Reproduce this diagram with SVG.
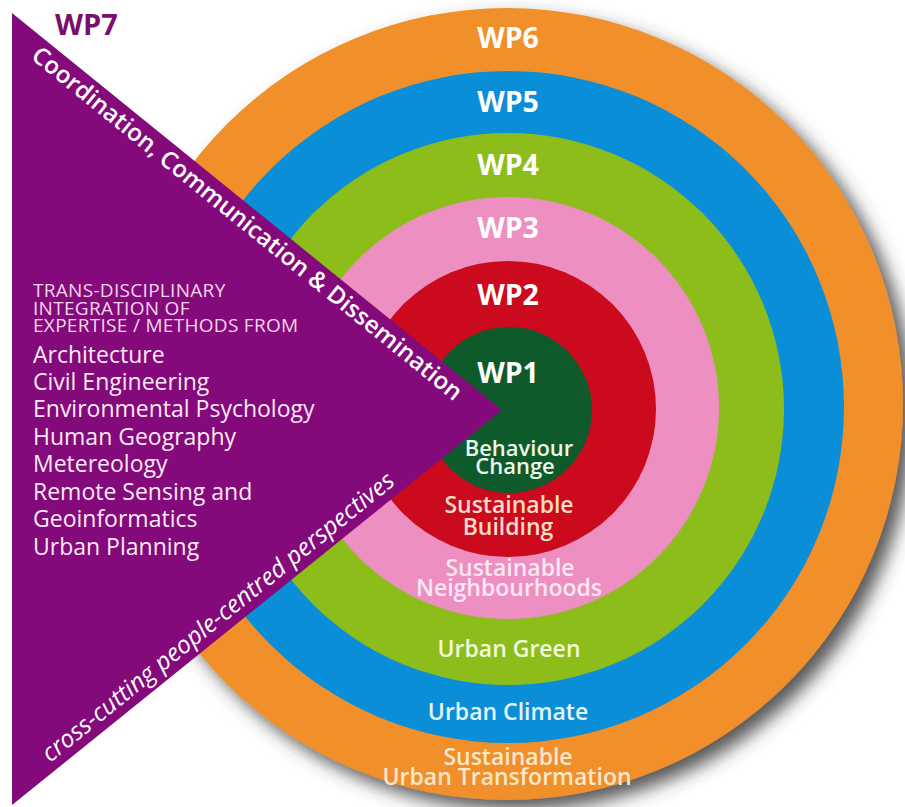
<svg xmlns="http://www.w3.org/2000/svg" width="905" height="807" viewBox="0 0 905 807">
<defs>
<filter id="shadow" x="-10%" y="-10%" width="125%" height="125%">
<feDropShadow dx="10" dy="10" stdDeviation="9" flood-color="#3a3a3a" flood-opacity="0.85"/>
</filter>
<style>
text{font-family:"Open Sans","Noto Sans","DejaVu Sans",sans-serif}
.wp{font-size:28.5px;font-weight:700;fill:#ffffff;text-anchor:middle}
.ring{font-size:23px;font-weight:600;text-anchor:middle}
.caps{font-size:19px;fill:#f4d6ec;letter-spacing:0.3px}
.list{font-size:23px;fill:#fbeaf6}
</style>
</defs>
<rect width="905" height="807" fill="#ffffff"/>
<g id="wp6">
<circle cx="507" cy="404" r="396" fill="#f18f2b" filter="url(#shadow)"/>
<text class="wp" x="508" y="48">WP6</text>
<text class="ring" x="508" y="765" fill="#fbe7cc">Sustainable</text>
<text class="ring" x="507" y="785" fill="#fbe7cc">Urban Transformation</text>
</g>
<g id="wp5">
<circle cx="508" cy="407" r="336" fill="#0b8ed8"/>
<text class="wp" x="508" y="112">WP5</text>
<text class="ring" x="508" y="720" fill="#e6f4fb">Urban Climate</text>
</g>
<g id="wp4">
<circle cx="508" cy="409" r="276" fill="#8dbd1b"/>
<text class="wp" x="508" y="175">WP4</text>
<text class="ring" x="509" y="657" fill="#f2f8dc">Urban Green</text>
</g>
<g id="wp3">
<circle cx="508" cy="408" r="211" fill="#ee8fc1"/>
<text class="wp" x="508" y="238" fill="#fbeaf3">WP3</text>
<text class="ring" x="510" y="576" fill="#fbe8f2">Sustainable</text>
<text class="ring" x="509" y="596" fill="#fbe8f2">Neighbourhoods</text>
</g>
<g id="wp2">
<circle cx="508" cy="409" r="148" fill="#cb0b1d"/>
<text class="wp" x="508" y="305">WP2</text>
<text class="ring" x="509" y="513" fill="#fadcc8">Sustainable</text>
<text class="ring" x="508" y="535" fill="#fadcc8">Building</text>
</g>
<g id="wp1">
<circle cx="509" cy="410" r="83" fill="#0f5a2b"/>
<text class="wp" x="508" y="383">WP1</text>
<text class="ring" x="519" y="456" fill="#eef5ea" style="font-size:22px">Behaviour</text>
<text class="ring" x="515" y="474" fill="#eef5ea" style="font-size:22px">Change</text>
</g>
<g id="wp7">
<polygon points="12,13 502,410 12,805" fill="#84097a"/>
<text x="55" y="35" style="font-size:29px;font-weight:700;fill:#7b0e6d">WP7</text>
<text transform="translate(30,58) rotate(39)" style="font-size:24px;font-weight:600;fill:#ffffff">Coordination, Communication &amp; Dissemination</text>
<text transform="translate(50,763) rotate(-38.9)" style="font-size:24.5px;font-style:italic;fill:#ffffff">cross-cutting people-centred perspectives</text>
<text class="caps" x="33" y="297">TRANS-DISCIPLINARY</text>
<text class="caps" x="33" y="315">INTEGRATION OF</text>
<text class="caps" x="33" y="332">EXPERTISE / METHODS FROM</text>
<text class="list" x="33" y="363">Architecture</text>
<text class="list" x="33" y="390">Civil Engineering</text>
<text class="list" x="33" y="417">Environmental Psychology</text>
<text class="list" x="33" y="445">Human Geography</text>
<text class="list" x="33" y="472">Metereology</text>
<text class="list" x="33" y="500">Remote Sensing and</text>
<text class="list" x="33" y="527">Geoinformatics</text>
<text class="list" x="33" y="555">Urban Planning</text>
</g>
</svg>
